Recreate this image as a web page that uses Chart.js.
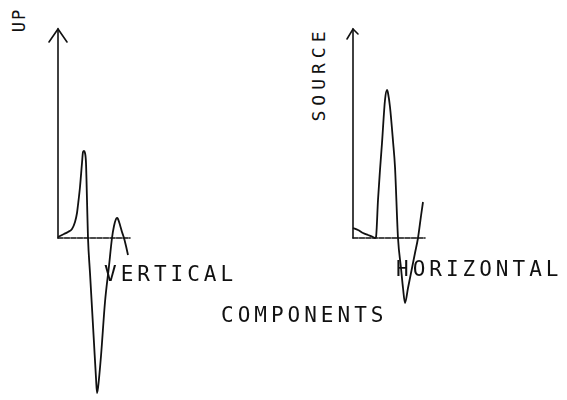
<!DOCTYPE html>
<html><head><meta charset="utf-8">
<script src="https://cdn.jsdelivr.net/npm/chart.js@4.4.1/dist/chart.umd.min.js"></script>
<style>
html,body{margin:0;padding:0;background:#fff;}
#wrap{position:relative;width:567px;height:400px;overflow:hidden;background:#fff;}
.plot{position:absolute;}
.lbl{position:absolute;font-family:"DejaVu Sans Mono",monospace;color:#111;white-space:nowrap;line-height:1;}
</style></head><body>
<div id="wrap">
  <div class="plot" style="left:46px;top:17px;width:96px;height:383px"><canvas id="cv"></canvas></div>
  <div class="plot" style="left:341px;top:17px;width:96px;height:383px"><canvas id="ch"></canvas></div>
  <div class="lbl" style="left:19px;top:20px;font-size:17px;letter-spacing:2px;transform:translate(-50%,-50%) rotate(-90deg);">UP</div>
  <div class="lbl" style="left:319px;top:74px;font-size:18px;letter-spacing:5px;transform:translate(-50%,-50%) rotate(-90deg);">SOURCE</div>
  <div class="lbl" style="left:104px;top:264px;font-size:21px;letter-spacing:4px;">VERTICAL</div>
  <div class="lbl" style="left:396px;top:259px;font-size:21px;letter-spacing:4px;">HORIZONTAL</div>
  <div class="lbl" style="left:221px;top:305px;font-size:21px;letter-spacing:4px;">COMPONENTS</div>
</div>
<script>
// Vertical component (left panel)
const vertTime = [0, 6, 10, 14, 17, 19, 20, 22, 24, 25, 26, 27, 28, 29, 30, 32, 34, 36, 38, 39, 40, 43, 47, 51, 54, 56, 58, 59, 60, 62, 64, 66, 68, 70];
const vertAmp  = [1, 4, 6, 9, 16, 25, 33, 51, 75, 86, 87, 85, 75, 38, 0, -35, -70, -105, -140, -155, -150, -118, -64, -28, 0, 12, 19, 20, 19, 13, 6, 0, -8, -17];
// Horizontal component (right panel)
const horTime = [0, 5, 10, 15, 20, 22, 23, 25, 27, 29, 32, 34, 35, 37, 40, 42, 45, 48, 50, 52, 55, 58, 62, 65, 68, 70];
const horAmp  = [10, 8, 5, 3, 1, 0, 1, 38, 68, 95, 138, 148, 145, 131, 97, 71, 0, -30, -50, -65, -50, -35, -15, 0, 22, 36];
const timeMax = 72;
const ampMin = -160, ampMax = 209;

const axisPlugin = {
  id: 'axisArrows',
  beforeDatasetsDraw(chart, args, o) {
    const {ctx, scales: {x, y}} = chart;
    const ox = x.getPixelForValue(0), oy = y.getPixelForValue(0);
    const top = y.getPixelForValue(y.max), right = x.getPixelForValue(x.max);
    ctx.save();
    ctx.strokeStyle = '#111'; ctx.lineWidth = 1.6; ctx.lineCap = 'round';
    ctx.beginPath(); ctx.moveTo(ox, oy); ctx.lineTo(ox, top); ctx.stroke();
    ctx.beginPath(); ctx.moveTo(ox - o.aL, top + o.hL); ctx.lineTo(ox, top); ctx.lineTo(ox + o.aR, top + o.hR); ctx.stroke();
    ctx.setLineDash([5, 1.5]);
    ctx.beginPath(); ctx.moveTo(ox, oy); ctx.lineTo(right, oy); ctx.stroke();
    ctx.restore();
  }
};

function makeChart(id, t, a, arrow) {
  return new Chart(document.getElementById(id), {
    type: 'line',
    data: { datasets: [{
      data: t.map((v, i) => ({x: v, y: a[i]})),
      borderColor: '#111', borderWidth: 1.8, pointRadius: 0,
      cubicInterpolationMode: 'monotone', fill: false, clip: false
    }]},
    options: {
      responsive: true, maintainAspectRatio: false, animation: false, devicePixelRatio: 1,
      layout: { padding: {left: 12, right: 12, top: 12, bottom: 2} },
      scales: {
        x: { type: 'linear', min: 0, max: timeMax, display: false },
        y: { type: 'linear', min: ampMin, max: ampMax, display: false }
      },
      plugins: { legend: {display: false}, tooltip: {enabled: false}, axisArrows: arrow }
    },
    plugins: [axisPlugin]
  });
}
makeChart('cv', vertTime, vertAmp, {aL: 9, hL: 13, aR: 9, hR: 13});
makeChart('ch', horTime, horAmp, {aL: 6, hL: 10, aR: 5, hR: 5});
</script>
</body></html>
